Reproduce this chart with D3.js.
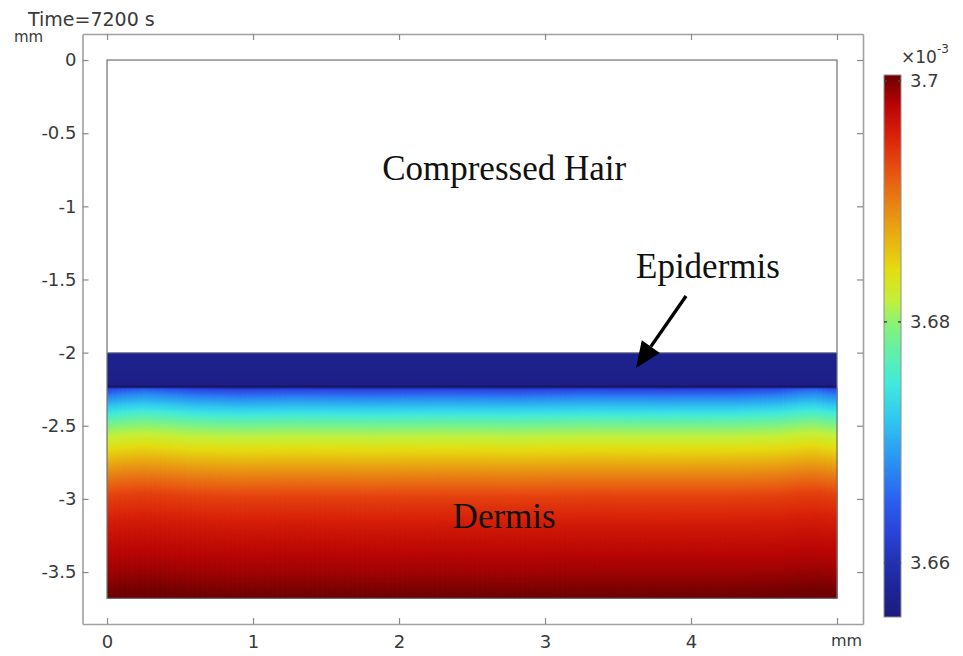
<!DOCTYPE html>
<html>
<head>
<meta charset="utf-8">
<script src="https://cdn.jsdelivr.net/npm/d3@7/dist/d3.min.js"></script>
<style>
  html, body { margin: 0; padding: 0; background: #fff; }
  svg { display: block; }
</style>
</head>
<body>
<svg id="chart" width="963" height="656"></svg>
<script>
// ---------------- data ----------------
const title = "Time=7200 s";
const unitLabel = "mm";
const xTicks = [0, 1, 2, 3, 4, 5];
const xTickLabels = ["0", "1", "2", "3", "4", "mm"];
const yTicks = [0, -0.5, -1, -1.5, -2, -2.5, -3, -3.5];
const yTickLabels = ["0", "-0.5", "-1", "-1.5", "-2", "-2.5", "-3", "-3.5"];
const domainWidth = 5;        // mm
const domainBottom = -3.68;   // mm
const hairBottom = -2.0;      // mm (top of epidermis)
const epidermisBottom = -2.24;// mm

// concentration (x10^-3) along depth, epidermis
const epiDepth = [-2.0, -2.1, -2.18, -2.24];
const epiValue = [3.6570, 3.6569, 3.6566, 3.6560];
// concentration (x10^-3) along depth, dermis
const dermisDepth = [-2.24, -2.26, -2.31, -2.38, -2.45, -2.52, -2.59, -2.67, -2.76, -2.85, -2.99, -3.19, -3.37, -3.51, -3.64, -3.68];
const dermisValue = [3.6605, 3.6632, 3.6676, 3.6720, 3.6762, 3.6798, 3.6820, 3.6844, 3.6873, 3.6900, 3.6936, 3.6962, 3.6979, 3.6989, 3.7002, 3.7005];
// lateral upward shift of the dermis profile (mm)
const lateralX = [0, 0.1, 0.25, 0.4, 0.6, 0.9, 1.3, 1.8, 2.3, 2.8, 3.3, 3.8, 4.3, 4.6, 4.75, 4.85, 4.95, 5.0];
const lateralShift = [0.008, 0.02, 0.03, 0.022, 0.008, 0.0, 0.004, 0.0, 0.003, 0.0, 0.006, 0.003, 0.005, 0.014, 0.03, 0.034, 0.02, 0.014];

// colour bar
const cMin = 3.6555, cMax = 3.7005;
const cTicks = [3.66, 3.68, 3.7];
const cTickLabels = ["3.66", "3.68", "3.7"];
const cmapPos = [0, 0.05, 0.105, 0.16, 0.216, 0.29, 0.365, 0.43, 0.49, 0.54, 0.585, 0.64, 0.695, 0.76, 0.825, 0.89, 0.945, 1];
const cmapColor = ["#1c1c7c", "#1e2496", "#2232b4", "#2a44dc", "#2a60f0", "#2a94f2", "#30c8f0", "#40eadc", "#62f0a8", "#88f278", "#c4f038", "#e4dc10", "#e8b410", "#e88414", "#e85010", "#d82008", "#b80404", "#6c0000"];

// annotations
const labels = [
  { text: "Compressed Hair", x: 2.72, y: -0.82 },
  { text: "Epidermis", x: 4.116, y: -1.49 },
  { text: "Dermis", x: 2.72, y: -3.2 }
];
const arrow = { x1: 3.966, y1: -1.613, x2: 3.623, y2: -2.105 };

// ---------------- layout ----------------
const frame = { left: 82.5, right: 863, top: 34, bottom: 624 };
const x = d3.scaleLinear().domain([-0.168, 5.178]).range([frame.left, frame.right]);
const y = d3.scaleLinear().domain([-3.855, 0.178]).range([frame.bottom, frame.top]);
const bar = { left: 884, right: 901 };
const cy = d3.scaleLinear().domain([cMin, cMax]).range([617, 75]);

const tOf = d3.scaleLinear().domain([cMin, cMax]).range([0, 1]).clamp(true);
const cmap = d3.scaleLinear().domain(cmapPos).range(cmapColor).interpolate(d3.interpolateRgb).clamp(true);
const color = v => cmap(tOf(v));

const svg = d3.select("#chart");
const defs = svg.append("defs");
const font = "'DejaVu Sans', sans-serif";
const textColor = "#3a3a3a";

// helper: build fine stops from a profile
function profileStops(depths, values, top, bottom, shift) {
  const prof = d3.scaleLinear().domain(depths).range(values).clamp(true);
  const stops = [];
  const n = 120;
  for (let i = 0; i <= n; i++) {
    const d = top + (bottom - top) * i / n;
    stops.push({ offset: i / n, color: color(prof(d - shift)) });
  }
  return stops;
}
function addGradient(id, top, bottom, stops) {
  const g = defs.append("linearGradient").attr("id", id)
    .attr("gradientUnits", "userSpaceOnUse")
    .attr("x1", 0).attr("x2", 0).attr("y1", y(top)).attr("y2", y(bottom));
  g.selectAll("stop").data(stops).join("stop")
    .attr("offset", d => d.offset).attr("stop-color", d => d.color);
}

// ---------------- field ----------------
addGradient("epiGrad", hairBottom, epidermisBottom, profileStops(epiDepth, epiValue, hairBottom, epidermisBottom, 0));
svg.append("rect")
  .attr("x", x(0)).attr("width", x(domainWidth) - x(0))
  .attr("y", y(hairBottom)).attr("height", y(epidermisBottom) - y(hairBottom))
  .attr("fill", "url(#epiGrad)");

const shiftAt = d3.scaleLinear().domain(lateralX).range(lateralShift);
const nCols = 146;
const cols = d3.range(nCols).map(i => {
  const xa = domainWidth * i / nCols, xb = domainWidth * (i + 1) / nCols;
  return { i, xa, xb, shift: shiftAt((xa + xb) / 2) };
});
cols.forEach(c => addGradient("dg" + c.i, epidermisBottom, domainBottom,
  profileStops(dermisDepth, dermisValue, epidermisBottom, domainBottom, c.shift)));
svg.append("g").selectAll("rect").data(cols).join("rect")
  .attr("x", c => x(c.xa)).attr("width", c => x(c.xb) - x(c.xa) + 0.6)
  .attr("y", y(epidermisBottom)).attr("height", y(domainBottom) - y(epidermisBottom))
  .attr("fill", c => "url(#dg" + c.i + ")");

// interface line (darker)
svg.append("line")
  .attr("x1", x(0)).attr("x2", x(domainWidth))
  .attr("y1", y(epidermisBottom) - 1).attr("y2", y(epidermisBottom) - 1)
  .attr("stroke", "#15156c").attr("stroke-width", 3).attr("opacity", 0.8);

// domain outline
svg.append("rect")
  .attr("x", x(0)).attr("y", y(0))
  .attr("width", x(domainWidth) - x(0)).attr("height", y(domainBottom) - y(0))
  .attr("fill", "none").attr("stroke", "#707070").attr("stroke-width", 1.2);
svg.append("line")
  .attr("x1", x(0)).attr("x2", x(domainWidth))
  .attr("y1", y(hairBottom)).attr("y2", y(hairBottom))
  .attr("stroke", "#8a8a9a").attr("stroke-width", 1.2);

// ---------------- axes ----------------
function styleAxis(g) {
  g.selectAll("path.domain").attr("stroke", "#a0a0a0").attr("stroke-width", 1.6);
  g.selectAll(".tick line").attr("stroke", "#8a8a8a").attr("stroke-width", 1.2);
  g.selectAll(".tick text").attr("fill", textColor).style("font-family", font).style("font-size", "18px");
}
const xAxisB = d3.axisBottom(x).tickValues(xTicks).tickSizeInner(-6).tickSizeOuter(0).tickPadding(11)
  .tickFormat((d, i) => xTickLabels[i]);
svg.append("g").attr("transform", `translate(0,${frame.bottom})`).call(xAxisB).call(styleAxis)
  .call(g => g.selectAll(".tick text").filter((d, i) => i === xTicks.length - 1)
    .attr("dx", "9").style("font-size", "16px"));
svg.append("g").attr("transform", `translate(0,${frame.top})`)
  .call(d3.axisTop(x).tickValues(xTicks).tickSizeInner(-6).tickSizeOuter(0).tickFormat(""))
  .call(styleAxis);
svg.append("g").attr("transform", `translate(${frame.left},0)`)
  .call(d3.axisLeft(y).tickValues(yTicks).tickSizeInner(-6).tickSizeOuter(0).tickPadding(6)
    .tickFormat((d, i) => yTickLabels[i]))
  .call(styleAxis);
svg.append("g").attr("transform", `translate(${frame.right},0)`)
  .call(d3.axisRight(y).tickValues(yTicks).tickSizeInner(-6).tickSizeOuter(0).tickFormat(""))
  .call(styleAxis);

// title and unit
svg.append("text").attr("x", 28).attr("y", 26).text(title)
  .attr("fill", textColor).style("font-family", font).style("font-size", "19px");
svg.append("text").attr("x", 14).attr("y", 42).text(unitLabel)
  .attr("fill", textColor).style("font-family", font).style("font-size", "15px");

// ---------------- colour bar ----------------
const cbStops = cmapPos.map((p, i) => ({ offset: p, color: cmapColor[i] }));
const cbg = defs.append("linearGradient").attr("id", "cbGrad")
  .attr("gradientUnits", "userSpaceOnUse")
  .attr("x1", 0).attr("x2", 0).attr("y1", cy(cMin)).attr("y2", cy(cMax));
cbg.selectAll("stop").data(cbStops).join("stop")
  .attr("offset", d => d.offset).attr("stop-color", d => d.color);
svg.append("rect")
  .attr("x", bar.left).attr("width", bar.right - bar.left)
  .attr("y", cy(cMax)).attr("height", cy(cMin) - cy(cMax))
  .attr("fill", "url(#cbGrad)").attr("stroke", "#909090").attr("stroke-width", 1);
const cbTicks = svg.append("g");
cbTicks.selectAll("line.l").data(cTicks).join("line").attr("class", "l")
  .attr("x1", bar.left).attr("x2", bar.left + 3).attr("y1", d => cy(d)).attr("y2", d => cy(d))
  .attr("stroke", "#444").attr("stroke-width", 1.5);
cbTicks.selectAll("line.r").data(cTicks).join("line").attr("class", "r")
  .attr("x1", bar.right - 3).attr("x2", bar.right).attr("y1", d => cy(d)).attr("y2", d => cy(d))
  .attr("stroke", "#444").attr("stroke-width", 1.5);
cbTicks.selectAll("text").data(cTicks).join("text")
  .attr("x", 910).attr("y", d => cy(d)).attr("dy", "0.35em")
  .text((d, i) => cTickLabels[i])
  .attr("fill", textColor).style("font-family", font).style("font-size", "18px");
const exp = svg.append("text").attr("x", 901).attr("y", 63)
  .attr("fill", textColor).style("font-family", font).style("font-size", "17px");
exp.append("tspan").text("×10");
exp.append("tspan").attr("dy", -10).style("font-size", "12px").text("-3");

// ---------------- annotations ----------------
svg.append("g").selectAll("text").data(labels).join("text")
  .attr("x", d => x(d.x)).attr("y", d => y(d.y))
  .attr("text-anchor", "middle")
  .text(d => d.text)
  .attr("fill", "#111")
  .style("font-family", "'Liberation Serif', 'Times New Roman', serif")
  .style("font-size", "35px");

const ax1 = x(arrow.x1), ay1 = y(arrow.y1), ax2 = x(arrow.x2), ay2 = y(arrow.y2);
const ang = Math.atan2(ay2 - ay1, ax2 - ax1);
const headLen = 26, headW = 11;
const bx = ax2 - headLen * Math.cos(ang), by = ay2 - headLen * Math.sin(ang);
svg.append("line").attr("x1", ax1).attr("y1", ay1).attr("x2", bx).attr("y2", by)
  .attr("stroke", "#000").attr("stroke-width", 3.4).attr("stroke-linecap", "butt");
svg.append("path")
  .attr("d", `M${ax2},${ay2}L${bx + headW * Math.sin(ang)},${by - headW * Math.cos(ang)}L${bx - headW * Math.sin(ang)},${by + headW * Math.cos(ang)}Z`)
  .attr("fill", "#000");
</script>
</body>
</html>
